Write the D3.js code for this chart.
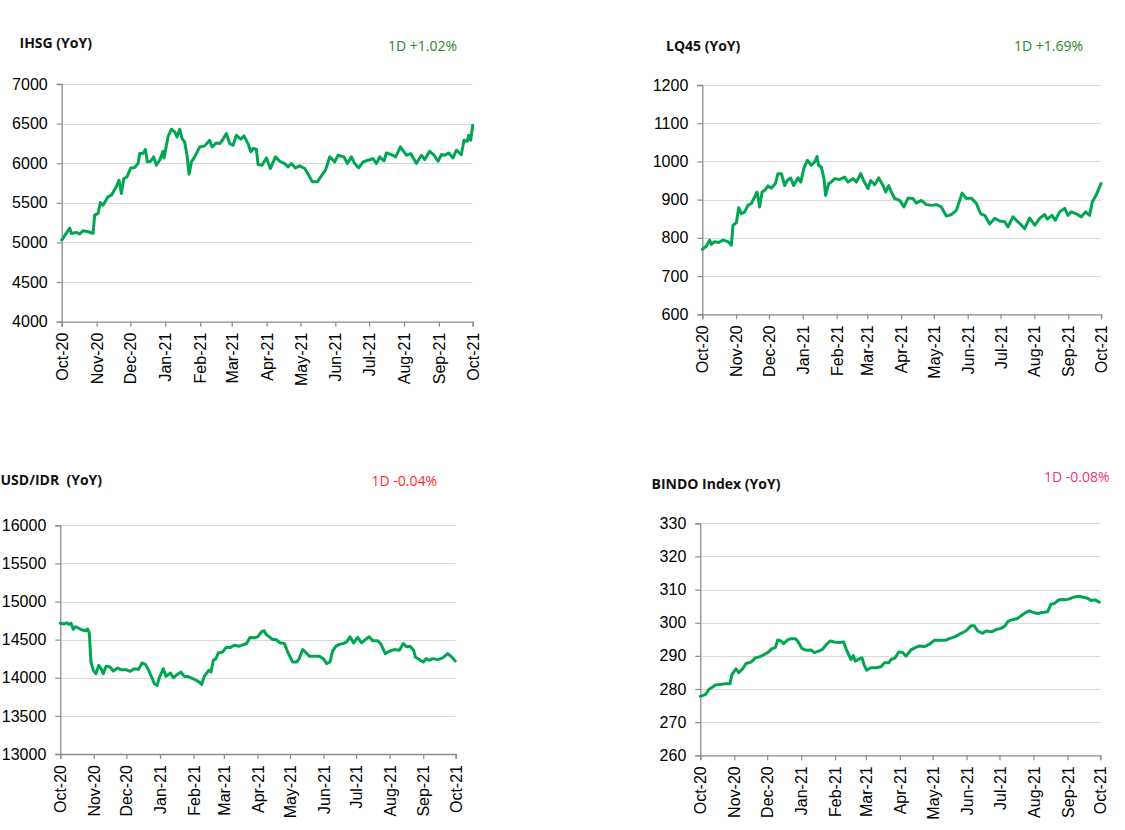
<!DOCTYPE html>
<html>
<head>
<meta charset="utf-8">
<script src="https://cdn.jsdelivr.net/npm/d3@7"></script>
<style>
  html, body { margin: 0; padding: 0; background: #ffffff; }
  svg { display: block; }
</style>
</head>
<body>
<svg id="chart" width="1125" height="830"></svg>
<script>
// ---------- data (day offsets from 1 Oct 2020) ----------
const monthLabels = ["Oct-20","Nov-20","Dec-20","Jan-21","Feb-21","Mar-21","Apr-21","May-21","Jun-21","Jul-21","Aug-21","Sep-21","Oct-21"];

const ihsgDays = [0,7.1,8.6,13,16,18.9,23.4,27.8,29.3,32.3,34.3,36.7,41.1,44.1,48.5,50.9,53,55.1,58,61.3,64.8,67.8,69.3,72.2,74.3,76.1,79,81.7,84.1,87,90,90.9,94.4,97.4,100.4,102.4,104.8,106.9,109.2,111.3,113.1,115.2,118.1,122.6,127,131.4,133.5,137.4,140.3,142.7,146.2,149.2,152.2,155.1,159,161.9,165.5,167.9,169.9,172.9,174.4,177.9,181.8,185.3,189.8,193.6,198,201,204,207.5,211.4,215.8,219.4,222.6,227.1,230.6,234.2,238,242.5,245.4,250.7,253.7,257.3,260.2,263.8,267.6,272.1,276.5,279.5,282.4,286.3,288.3,292.8,296.6,300.8,306.1,309.9,315,319.4,322.4,326.8,330.7,334.2,337.2,340.1,343.7,347.5,350.5,354.9,357.3,360.2,361.5,363.2,365];
const ihsgValues = [5030,5180,5114,5127,5106,5148,5135,5114,5345,5366,5505,5471,5576,5597,5702,5786,5618,5807,5828,5941,5946,5996,6122,6122,6172,6017,6025,6080,5975,6038,6151,6067,6332,6429,6395,6332,6429,6311,6269,6101,5862,6017,6080,6206,6219,6290,6206,6256,6248,6290,6374,6248,6227,6353,6303,6345,6248,6143,6185,6177,5983,5975,6067,5933,6080,6025,5996,5954,5996,5941,5967,5933,5849,5765,5765,5841,5912,6080,6017,6101,6080,5996,6080,5996,5941,6017,6038,6059,5996,6080,6030,6130,6109,6080,6206,6101,6122,5996,6101,6046,6151,6101,6025,6109,6101,6130,6067,6164,6109,6290,6277,6353,6290,6479];

const lq45Days = [0,3.7,6.7,8.3,11.3,15,18.9,23.5,26.6,28.1,31.2,33.3,35.7,38.8,41.8,44.9,47.9,50.1,52.5,54.7,57.1,60.1,63.2,66.9,69.3,72.4,75.4,77.8,80.9,83.6,87.6,90.1,93.1,96.2,99.8,102.9,105,106.5,109,111.4,112.9,115.7,118.1,121.2,125.8,130.3,133.4,138,141,145,148,151.7,154.1,157.8,161.5,165.4,167.9,170.6,173.1,176.1,180.7,184.6,188.3,192.9,195.9,200.5,205.1,209.7,214.3,218.8,223.4,228,232.6,237.8,241.7,246.3,250.9,254.8,258.5,263.1,267.7,272.2,276.8,279.9,284.4,287.5,290.5,295.1,299.7,304.3,308.8,313.4,315.8,320.1,323.2,327.1,331.7,334.8,337.8,342.4,347,350.9,354.6,357,360.7,365];
const lq45Values = [770,778,794,783,790,788,794,790,781,833,840,879,863,868,885,890,907,920,881,920,924,936,930,942,968,968,937,950,957,937,957,946,983,1003,990,998,1013,990,985,955,911,942,946,955,953,959,946,955,946,968,948,929,950,939,957,937,920,937,920,903,898,881,904,903,891,898,887,885,887,881,857,861,872,917,903,904,890,863,859,836,851,844,842,829,855,846,838,824,852,833,851,861,849,859,846,868,877,859,868,863,855,868,859,894,913,942];

const usdDays = [0,3.7,5.9,7.7,9.9,12,13.9,16,19.1,22.2,25.3,26.8,28.3,30.5,32.9,35.4,37.6,39.7,42.2,45.9,48.9,53,56,60.6,64.3,68.3,72.3,75.4,78.5,81.6,84.6,86.8,89.3,91.4,95.1,97.6,101.6,104.3,107.7,111.4,114.5,117.6,120.6,124.6,128.3,130.5,132.9,137,139.1,141.3,143.7,145.9,149.9,153,156.6,160.6,165.3,169,172,175.1,179.1,182.2,185.9,188.3,189.9,193,196,199.1,202.8,206.8,209.9,211.4,214.5,218.2,220.6,223.7,226.2,229.9,234.5,239.1,242.8,245.9,249,251.4,254.5,258.2,261.3,264.3,267.4,270.8,274.5,278.2,281.6,285.3,288.3,293,296,300,303.7,308.3,313,316.6,319.7,322.8,326.2,327.7,331.4,335.1,337.6,340.6,343.7,348.3,353,357.6,360.6,364.6];
const usdValues = [14714,14705,14722,14700,14714,14634,14670,14656,14634,14617,14639,14582,14207,14097,14053,14163,14119,14053,14150,14141,14088,14128,14106,14106,14084,14119,14110,14194,14176,14097,14000,13921,13899,14000,14119,14018,14062,14000,14040,14075,14018,14018,14000,13974,13943,13912,14018,14097,14075,14229,14251,14326,14339,14396,14396,14427,14414,14436,14449,14529,14524,14537,14604,14617,14568,14537,14502,14502,14458,14449,14339,14295,14207,14207,14251,14370,14339,14282,14282,14282,14251,14185,14207,14352,14414,14441,14449,14471,14537,14458,14529,14458,14502,14537,14485,14485,14441,14317,14348,14370,14361,14449,14405,14414,14361,14273,14238,14207,14251,14229,14251,14238,14260,14317,14282,14220];

const bindoDays = [0,4.6,8.2,11.3,13.7,18.9,23.4,27.1,28.9,32.6,35,38.7,41.7,46.3,50.2,53.9,58.4,62.4,65.4,68.5,70.6,73.6,76.1,79.7,82.8,86.7,88.8,92.8,96.4,101,104,108.6,111.6,115.3,118.3,122.3,126.8,130.8,132.9,135.4,137.5,139.6,141.4,145.1,147.5,149.7,151.8,155.7,160.3,164.9,167.9,171.9,174,177.9,181,184.6,187.7,192.2,196.2,199.8,204.4,209,213.5,218.1,223.6,227.2,232.7,237.9,242.4,247,250,253.1,257.6,260.7,266.1,270.4,274.4,278.3,280.4,284.4,289.6,293.5,297.2,300.2,303.9,307.8,312.4,316.9,320,323,326.1,329.1,333.1,336.7,340.7,345.2,349.4,353.4,356.5,360.4,364.1];
const bindoValues = [277.8,278.3,280.0,280.6,281.2,281.4,281.6,281.6,284.4,286.1,284.9,286.1,287.7,288.1,289.4,289.7,290.4,291.2,292.2,292.5,294.8,294.5,293.7,294.8,295.2,295.2,294.5,292.2,291.7,291.8,291.0,291.5,292.0,293.5,294.5,294.2,294.0,294.2,292.2,290.4,288.9,290.1,288.4,289.1,289.4,287.1,285.7,286.4,286.4,286.7,287.9,287.9,288.9,289.4,291.2,291.0,289.9,291.8,292.5,293.0,292.8,293.5,294.7,294.7,294.7,295.2,295.8,296.8,297.5,299.1,299.1,297.5,296.8,297.5,297.3,298.0,298.3,299.1,300.3,300.9,301.3,302.3,303.1,303.6,303.1,302.8,303.1,303.3,305.6,305.8,306.7,307.0,306.9,307.2,307.7,308.0,307.7,307.4,306.7,306.9,306.2];

const titles = ["IHSG (YoY)", "LQ45 (YoY)", "USD/IDR\u00a0 (YoY)", "BINDO Index (YoY)"];
const changeLabels = ["1D +1.02%", "1D +1.69%", "1D -0.04%", "1D -0.08%"];
const yDomains = [[4000, 7000], [600, 1200], [13000, 16000], [260, 330]];
const yStepsList = [500, 100, 500, 10];

// ---------- layout / style ----------
const panels = [
  { days: ihsgDays,  values: ihsgValues,  x0: 61.7,  x1: 472.7, yTop: 84,    yBot: 321.7,
    tx: 19.5,  ty: 48,    cx: 388,   cy: 51,    cColor: "#2a8526" },
  { days: lq45Days,  values: lq45Values,  x0: 702.3, x1: 1101,  yTop: 85,    yBot: 314.3,
    tx: 666,   ty: 50.5,  cx: 1014,  cy: 51,    cColor: "#2a8526" },
  { days: usdDays,   values: usdValues,   x0: 60.3,  x1: 455.7, yTop: 525.3, yBot: 754,
    tx: 0.5,   ty: 484.5, cx: 371.5, cy: 485.5, cColor: "#ff1f2e" },
  { days: bindoDays, values: bindoValues, x0: 700.3, x1: 1100.3,yTop: 523.3, yBot: 755.3,
    tx: 651.5, ty: 488.5, cx: 1044,  cy: 482,   cColor: "#f5336b" }
];

const lineColor = "#00a651";
const gridColor = "#d9d9d9";
const axisColor = "#8c8c8c";
const tickFont = "'Liberation Sans', Arial, sans-serif";
const titleFont = "'Open Sans', 'Liberation Sans', sans-serif";

const svg = d3.select("#chart");
const start = new Date(Date.UTC(2020, 9, 1));
const end = new Date(Date.UTC(2021, 9, 1));
const dayMs = 86400000;

panels.forEach((p, i) => {
  const x = d3.scaleUtc().domain([start, end]).range([p.x0, p.x1]);
  const y = d3.scaleLinear().domain(yDomains[i]).range([p.yBot, p.yTop]);
  const g = svg.append("g");

  const yTicks = d3.range(yDomains[i][0], yDomains[i][1] + yStepsList[i] / 2, yStepsList[i]);

  // gridlines
  g.append("g").selectAll("line")
    .data(yTicks.slice(1))
    .join("line")
    .attr("x1", p.x0).attr("x2", p.x1)
    .attr("y1", d => Math.round(y(d)) + 0.5).attr("y2", d => Math.round(y(d)) + 0.5)
    .attr("stroke", gridColor).attr("stroke-width", 1.2);

  // y axis
  const yAxis = d3.axisLeft(y).tickValues(yTicks).tickSize(5).tickPadding(9).tickFormat(d3.format("d"));
  const ya = g.append("g").attr("transform", `translate(${p.x0},0)`).call(yAxis);
  ya.select(".domain").attr("stroke", axisColor).attr("stroke-width", 1.3);
  ya.selectAll(".tick line").attr("stroke", axisColor).attr("stroke-width", 1.2);
  ya.selectAll(".tick text").attr("font-family", tickFont).attr("font-size", 16).attr("fill", "#000");

  // x axis
  const monthTicks = d3.utcMonth.range(start, d3.utcDay.offset(end, 1));
  const xAxis = d3.axisBottom(x).tickValues(monthTicks).tickSize(5).tickPadding(0)
    .tickFormat((d, k) => monthLabels[k]);
  const xa = g.append("g").attr("transform", `translate(0,${p.yBot})`).call(xAxis);
  xa.select(".domain").attr("stroke", axisColor).attr("stroke-width", 1.3);
  xa.selectAll(".tick line").attr("stroke", axisColor).attr("stroke-width", 1.2);
  xa.selectAll(".tick text")
    .attr("font-family", tickFont).attr("font-size", 16).attr("fill", "#000")
    .attr("text-anchor", "end")
    .attr("transform", "rotate(-90)")
    .attr("x", -11).attr("y", 0).attr("dy", "0.35em");

  // series line
  const pts = p.days.map((d, k) => ({ date: new Date(start.getTime() + Math.min(d, 365) * dayMs), v: p.values[k] }));
  const line = d3.line().x(d => x(d.date)).y(d => y(d.v));
  g.append("path").datum(pts)
    .attr("d", line)
    .attr("fill", "none").attr("stroke", lineColor).attr("stroke-width", 3)
    .attr("stroke-linejoin", "round").attr("stroke-linecap", "round");

  // titles
  g.append("text").attr("x", p.tx).attr("y", p.ty)
    .attr("font-family", titleFont).attr("font-weight", 700).attr("font-size", 14)
    .attr("fill", "#111").text(titles[i]);
  g.append("text").attr("x", p.cx).attr("y", p.cy)
    .attr("font-family", titleFont).attr("font-size", 14)
    .attr("fill", p.cColor).text(changeLabels[i]);
});
</script>
</body>
</html>
